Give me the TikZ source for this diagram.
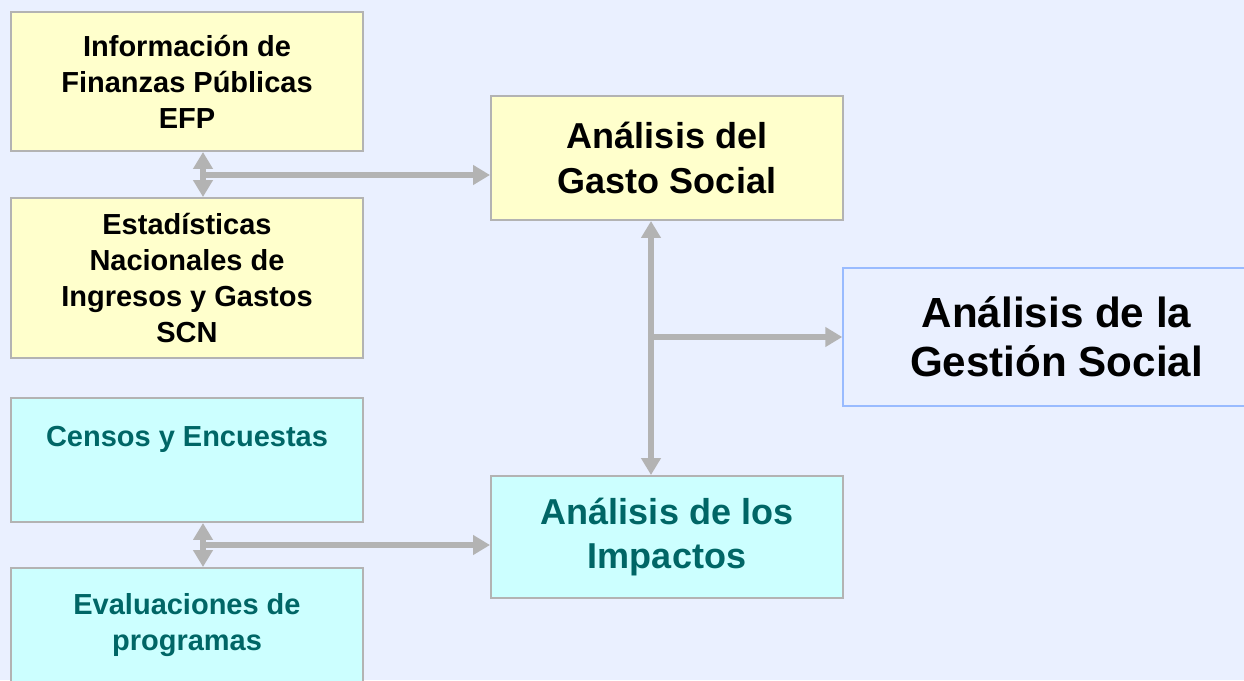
\documentclass[tikz,border=0pt]{standalone}
\usepackage{fontspec}
\setmainfont{Liberation Sans}
\usetikzlibrary{arrows.meta,positioning}

\definecolor{fondo}{HTML}{EAF0FF}
\definecolor{amarillo}{HTML}{FFFFCC}
\definecolor{celeste}{HTML}{CCFFFF}
\definecolor{borde}{HTML}{B3B3B3}
\definecolor{azulborde}{HTML}{99BBFF}
\definecolor{verdeazul}{HTML}{006666}

\begin{document}
\begin{tikzpicture}[
x=0.02cm,y=-0.02cm,
>={Triangle[length=0.34cm,width=0.38cm]},
box/.style={%
    rectangle,
    draw=borde,
    line width=0.04cm,
    minimum width=7.04cm,
    align=center,
    font=\bfseries\fontsize{16.5}{20.5}\selectfont,
},
fuente/.style={%
    box,
    fill=amarillo,
    text=black,
},
impacto/.style={%
    box,
    fill=celeste,
    text=verdeazul,
},
analisis/.style={%
    font=\bfseries\fontsize{20.5}{25.5}\selectfont,
},
link/.style={%
    draw=borde,
    line width=0.12cm,
},
]
% Background
\fill[fondo] (0,0) rectangle (1244,680);
\useasboundingbox (0,0) rectangle (1244,680);

% Nodes
\node[fuente]   at (187, 81.5)  (efp)       [minimum height=2.78cm] {Información de\\Finanzas Públicas\\EFP};
\node[fuente]   at (187, 278)   (scn)       [minimum height=3.2cm]  {Estadísticas\\Nacionales de\\Ingresos y Gastos\\SCN};
\node[impacto]  at (187, 460)   (censos)    [minimum height=2.48cm] {Censos y Encuestas\\\strut};
\node[impacto]  at (187, 625)   (evaluac)   [minimum height=2.28cm] {Evaluaciones de\\programas};

\node[fuente,analisis]  at (667, 158)   (gasto)     [minimum height=2.48cm] {Análisis del\\Gasto Social};
\node[impacto,analisis] at (667, 537)   (impactos)  [minimum height=2.44cm] {Análisis de los\\Impactos};

\node[box,draw=azulborde,line width=0.03cm,fill=fondo,minimum width=8.54cm,minimum height=2.76cm,
      font=\bfseries\fontsize{24}{28}\selectfont]
                at (1056.5, 337) (gestion)  {Análisis de la\\Gestión Social};

\coordinate (ejearriba) at (203, 175);
\coordinate (ejeabajo)  at (203, 545);
\coordinate (ejecentro) at (651, 337);

% Lines
\draw[link,<->] (ejearriba |- efp.south) -- (ejearriba |- scn.north);
\draw[link,->]  (ejearriba) -- (gasto.west |- ejearriba);
\draw[link,<->] (ejeabajo |- censos.south) -- (ejeabajo |- evaluac.north);
\draw[link,->]  (ejeabajo) -- (impactos.west |- ejeabajo);
\draw[link,<->] (ejecentro |- gasto.south) -- (ejecentro |- impactos.north);
\draw[link,->]  (ejecentro) -- (gestion.west);
\end{tikzpicture}
\end{document}
